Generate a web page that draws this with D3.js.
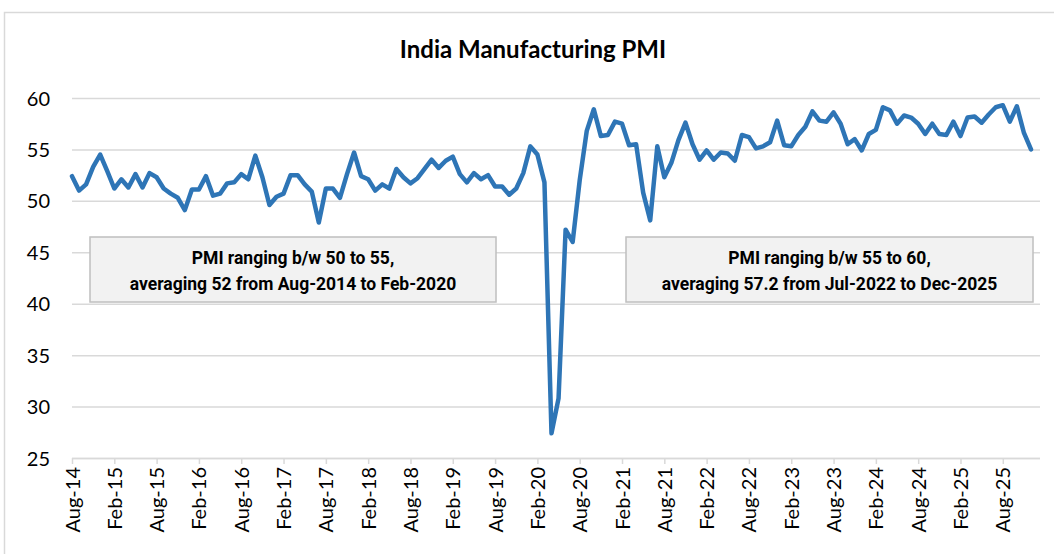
<!DOCTYPE html>
<html>
<head>
<meta charset="utf-8">
<script src="https://cdn.jsdelivr.net/npm/d3@7"></script>
<style>
  body { margin: 0; background: #fff; }
  svg { display: block; }
</style>
</head>
<body>
<div id="chart"></div>
<script>
const w = 1054
const h = 554
const lineBlue = "#2e75b6"
const gridGray = "#d9d9d9"

// monthly PMI readings, one array per calendar year
const pmi2014 = [52.4, 51.0, 51.6, 53.3, 54.5] // Aug..Dec
const pmi2015 = [52.9, 51.2, 52.1, 51.3, 52.6, 51.3, 52.7, 52.3, 51.2, 50.7, 50.3, 49.1]
const pmi2016 = [51.1, 51.1, 52.4, 50.5, 50.7, 51.7, 51.8, 52.6, 52.1, 54.4, 52.3, 49.6]
const pmi2017 = [50.4, 50.7, 52.5, 52.5, 51.6, 50.9, 47.9, 51.2, 51.2, 50.3, 52.6, 54.7]
const pmi2018 = [52.4, 52.1, 51.0, 51.6, 51.2, 53.1, 52.3, 51.7, 52.2, 53.1, 54.0, 53.2]
const pmi2019 = [53.9, 54.3, 52.6, 51.8, 52.7, 52.1, 52.5, 51.4, 51.4, 50.6, 51.2, 52.7]
const pmi2020 = [55.3, 54.5, 51.8, 27.4, 30.8, 47.2, 46.0, 52.0, 56.8, 58.9, 56.3, 56.4]
const pmi2021 = [57.7, 57.5, 55.4, 55.5, 50.8, 48.1, 55.3, 52.3, 53.7, 55.9, 57.6, 55.5]
const pmi2022 = [54.0, 54.9, 54.0, 54.7, 54.6, 53.9, 56.4, 56.2, 55.1, 55.3, 55.7, 57.8]
const pmi2023 = [55.4, 55.3, 56.4, 57.2, 58.7, 57.8, 57.7, 58.6, 57.5, 55.5, 56.0, 54.9]
const pmi2024 = [56.5, 56.9, 59.1, 58.8, 57.5, 58.3, 58.1, 57.5, 56.5, 57.5, 56.5, 56.4]
const pmi2025 = [57.7, 56.3, 58.1, 58.2, 57.6, 58.4, 59.1, 59.3, 57.7, 59.2, 56.6, 55.0]

const startMonth = new Date(2014, 7, 1)
const yTicks = [25, 30, 35, 40, 45, 50, 55, 60]
const xTickLabels = ["Aug-14", "Feb-15", "Aug-15", "Feb-16", "Aug-16", "Feb-17", "Aug-17", "Feb-18",
  "Aug-18", "Feb-19", "Aug-19", "Feb-20", "Aug-20", "Feb-21", "Aug-21", "Feb-22", "Aug-22", "Feb-23",
  "Aug-23", "Feb-24", "Aug-24", "Feb-25", "Aug-25"]

const notes = [
  ["PMI ranging b/w 50 to 55,", "averaging 52 from Aug-2014 to Feb-2020"],
  ["PMI ranging b/w 55 to 60,", "averaging 57.2 from Jul-2022 to Dec-2025"]
]

const values = [].concat(pmi2014, pmi2015, pmi2016, pmi2017, pmi2018, pmi2019,
  pmi2020, pmi2021, pmi2022, pmi2023, pmi2024, pmi2025)
const fmt = d3.timeFormat("%b-%y")
const data = values.map((v, i) => ({ month: fmt(d3.timeMonth.offset(startMonth, i)), value: v }))

const plot = { left: 72, right: 1040, top: 98, bottom: 458 }

const x = d3.scalePoint()
  .domain(data.map(d => d.month))
  .range([plot.left, 1031])

const y = d3.scaleLinear()
  .domain([25, 60])
  .range([plot.bottom, plot.top])

const svg = d3.select("#chart").append("svg")
  .attr("width", w)
  .attr("height", h)

// chart area border
svg.append("rect")
  .attr("x", 4.5).attr("y", 12.5)
  .attr("width", w + 20).attr("height", h + 20)
  .attr("fill", "#fff")
  .attr("stroke", gridGray)
  .attr("stroke-width", 1.5)

svg.append("text")
  .attr("x", 533).attr("y", 58)
  .attr("text-anchor", "middle")
  .style("font-family", "Lato, sans-serif")
  .style("font-weight", 700)
  .style("font-size", "24px")
  .attr("fill", "#000")
  .text("India Manufacturing PMI")

// gridlines + y labels
svg.append("g")
  .attr("transform", `translate(${plot.left},0)`)
  .call(d3.axisRight(y).tickValues(yTicks).tickSize(plot.right - plot.left))
  .call(g => g.select(".domain").remove())
  .call(g => g.selectAll(".tick line")
    .attr("stroke", gridGray)
    .attr("stroke-width", 1.5))
  .call(g => g.selectAll(".tick text")
    .attr("x", 50 - plot.left)
    .attr("text-anchor", "end")
    .attr("dy", "0.35em")
    .attr("fill", "#000")
    .style("font-family", "Lato, sans-serif")
    .style("font-size", "20px"))

// x axis
const xAxis = svg.append("g")
  .attr("transform", `translate(0,${plot.bottom})`)
  .call(d3.axisBottom(x).tickValues(xTickLabels).tickSize(6).tickSizeOuter(0))
xAxis.select(".domain")
  .attr("d", `M${plot.left},0.5H${plot.right}`)
  .attr("stroke", gridGray)
  .attr("stroke-width", 1.5)
xAxis.selectAll(".tick line")
  .attr("stroke", gridGray)
  .attr("stroke-width", 1.5)
xAxis.selectAll(".tick text")
  .attr("transform", "rotate(-90)")
  .attr("x", -9)
  .attr("y", 0)
  .attr("dy", "0.35em")
  .attr("text-anchor", "end")
  .attr("fill", "#000")
  .style("font-family", "Lato, sans-serif")
  .style("font-size", "20px")

const line = d3.line()
  .x(d => x(d.month))
  .y(d => y(d.value))

svg.append("path")
  .datum(data)
  .attr("d", line)
  .attr("fill", "none")
  .attr("stroke", lineBlue)
  .attr("stroke-width", 4.5)
  .attr("stroke-linejoin", "round")
  .attr("stroke-linecap", "round")

// annotation boxes
const boxTop = 237
const boxBottom = 302
const boxX = [[90, 496], [626, 1033]]
notes.forEach((lines, i) => {
  const g = svg.append("g")
  g.append("rect")
    .attr("x", boxX[i][0]).attr("y", boxTop)
    .attr("width", boxX[i][1] - boxX[i][0])
    .attr("height", boxBottom - boxTop)
    .attr("fill", "#f2f2f2")
    .attr("stroke", "#bfbfbf")
    .attr("stroke-width", 1.5)
  lines.forEach((t, j) => {
    g.append("text")
      .attr("x", (boxX[i][0] + boxX[i][1]) / 2)
      .attr("y", boxTop + 27 + j * 26)
      .attr("text-anchor", "middle")
      .style("font-family", "Roboto, sans-serif")
      .style("font-weight", 700)
      .style("font-size", "17.5px")
      .attr("fill", "#000")
      .text(t)
  })
})
</script>
</body>
</html>
